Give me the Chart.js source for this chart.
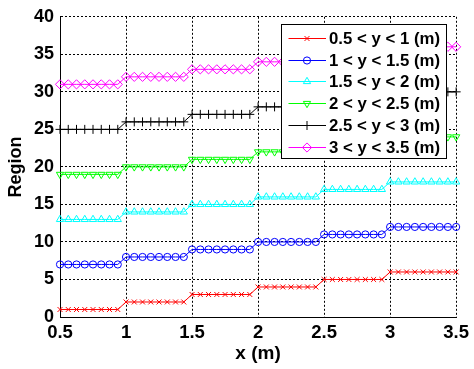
<!DOCTYPE html>
<html><head><meta charset="utf-8">
<style>html,body{margin:0;padding:0;background:#fff;overflow:hidden}canvas{display:block}</style>
<script src="https://cdn.jsdelivr.net/npm/chart.js@4.4.1/dist/chart.umd.min.js"></script>
</head><body>
<canvas id="c" width="474" height="369"></canvas>
<script>
// x positions of samples (m)
const xValues = [
  0.5, 0.5625, 0.625, 0.6875, 0.75, 0.8125, 0.875, 0.9375,
  1, 1.0625, 1.125, 1.1875, 1.25, 1.3125, 1.375, 1.4375,
  1.5, 1.5625, 1.625, 1.6875, 1.75, 1.8125, 1.875, 1.9375,
  2, 2.0625, 2.125, 2.1875, 2.25, 2.3125, 2.375, 2.4375,
  2.5, 2.5625, 2.625, 2.6875, 2.75, 2.8125, 2.875, 2.9375,
  3, 3.0625, 3.125, 3.1875, 3.25, 3.3125, 3.375, 3.4375, 3.5
];
const regionY05to1 = [1,1,1,1,1,1,1,1, 2,2,2,2,2,2,2,2, 3,3,3,3,3,3,3,3, 4,4,4,4,4,4,4,4, 5,5,5,5,5,5,5,5, 6,6,6,6,6,6,6,6,6];
const regionY1to15 = [7,7,7,7,7,7,7,7, 8,8,8,8,8,8,8,8, 9,9,9,9,9,9,9,9, 10,10,10,10,10,10,10,10, 11,11,11,11,11,11,11,11, 12,12,12,12,12,12,12,12,12];
const regionY15to2 = [13,13,13,13,13,13,13,13, 14,14,14,14,14,14,14,14, 15,15,15,15,15,15,15,15, 16,16,16,16,16,16,16,16, 17,17,17,17,17,17,17,17, 18,18,18,18,18,18,18,18,18];
const regionY2to25 = [19,19,19,19,19,19,19,19, 20,20,20,20,20,20,20,20, 21,21,21,21,21,21,21,21, 22,22,22,22,22,22,22,22, 23,23,23,23,23,23,23,23, 24,24,24,24,24,24,24,24,24];
const regionY25to3 = [25,25,25,25,25,25,25,25, 26,26,26,26,26,26,26,26, 27,27,27,27,27,27,27,27, 28,28,28,28,28,28,28,28, 29,29,29,29,29,29,29,29, 30,30,30,30,30,30,30,30,30];
const regionY3to35 = [31,31,31,31,31,31,31,31, 32,32,32,32,32,32,32,32, 33,33,33,33,33,33,33,33, 34,34,34,34,34,34,34,34, 35,35,35,35,35,35,35,35, 36,36,36,36,36,36,36,36,36];
const seriesLabels = ['0.5 < y < 1 (m)','1 < y < 1.5 (m)','1.5 < y < 2 (m)','2 < y < 2.5 (m)','2.5 < y < 3 (m)','3 < y < 3.5 (m)'];
const xTickValues = [0.5, 1, 1.5, 2, 2.5, 3, 3.5];
const yTickValues = [0, 5, 10, 15, 20, 25, 30, 35, 40];

const FONT = '"Liberation Sans", Arial, sans-serif';
const styles = [
  {color:'#ff0000', pointStyle:'crossRot', radius:3.5, rot:0},
  {color:'#0000ff', pointStyle:'circle', radius:3.6, rot:0},
  {color:'#00ffff', pointStyle:'triangle', radius:4.2, rot:0},
  {color:'#00ff00', pointStyle:'triangle', radius:4.2, rot:180},
  {color:'#000000', pointStyle:'cross', radius:4.5, rot:0},
  {color:'#ff00ff', pointStyle:'rectRot', radius:4.6, rot:0}
];
const seriesValues = [regionY05to1, regionY1to15, regionY15to2, regionY2to25, regionY25to3, regionY3to35];

const datasets = seriesValues.map((vals, i) => ({
  label: seriesLabels[i],
  data: vals.map((v, j) => ({x: xValues[j], y: v})),
  borderColor: styles[i].color,
  backgroundColor: 'rgba(0,0,0,0)',
  pointBackgroundColor: 'rgba(0,0,0,0)',
  pointBorderColor: styles[i].color,
  pointStyle: styles[i].pointStyle,
  pointRotation: styles[i].rot,
  pointRadius: styles[i].radius,
  pointBorderWidth: 1,
  borderWidth: 1,
  fill: false,
  tension: 0,
  clip: false
}));

const boxLegend = {
  id: 'boxLegend',
  afterDatasetsDraw(chart) {
    const ctx = chart.ctx, ca = chart.chartArea;
    const w = 165, h = 134;
    const left = Math.round(ca.right - 10 - w), top = Math.round(ca.top + 7);
    ctx.save();
    ctx.fillStyle = '#fff';
    ctx.fillRect(left, top, w, h);
    ctx.strokeStyle = '#000'; ctx.lineWidth = 1;
    ctx.strokeRect(left + 0.5, top + 0.5, w, h);
    ctx.font = 'bold 16.8px ' + FONT;
    ctx.textBaseline = 'middle';
    ctx.textAlign = 'left';
    chart.data.datasets.forEach((ds, i) => {
      const y = Math.round(top + 14 + i * 21.7) + 0.5;
      ctx.strokeStyle = ds.borderColor; ctx.lineWidth = 1;
      ctx.beginPath(); ctx.moveTo(left + 7.5, y); ctx.lineTo(left + 45, y); ctx.stroke();
      ctx.fillStyle = 'rgba(0,0,0,0)';
      ctx.strokeStyle = ds.pointBorderColor;
      if (Chart.helpers && Chart.helpers.drawPoint) {
        Chart.helpers.drawPoint(ctx, {pointStyle: ds.pointStyle, rotation: ds.pointRotation, radius: ds.pointRadius, borderWidth: 1}, left + 26, y);
      }
      ctx.fillStyle = '#000';
      ctx.fillText(ds.label, left + 48, y + 0.5);
    });
    ctx.restore();
  }
};

new Chart(document.getElementById('c'), {
  type: 'line',
  data: { datasets },
  plugins: [boxLegend],
  options: {
    responsive: false,
    animation: false,
    layout: { padding: { top: 12, right: 15, left: 0, bottom: 0 } },
    plugins: { legend: { display: false }, tooltip: { enabled: false } },
    scales: {
      x: {
        type: 'linear', min: xTickValues[0], max: xTickValues[xTickValues.length - 1],
        afterFit(s) { s.height = 52; },
        afterBuildTicks(s) { s.ticks = xTickValues.map(v => ({value: v})); },
        ticks: { color: '#000', font: { family: FONT, size: 18.5, weight: 'bold' }, padding: 5, maxRotation: 0, autoSkip: false,
                 callback: v => String(Math.round(v * 100) / 100) },
        grid: { color: '#000', lineWidth: 1, drawTicks: false },
        border: { display: true, color: '#000', width: 1, dash: [2, 2] },
        title: { display: true, text: 'x (m)', color: '#000', font: { family: FONT, size: 19, weight: 'bold' }, padding: { top: 4, bottom: 4 } }
      },
      y: {
        type: 'linear', min: yTickValues[0], max: yTickValues[yTickValues.length - 1],
        afterFit(s) { s.width = 60; },
        afterBuildTicks(s) { s.ticks = yTickValues.map(v => ({value: v})); },
        ticks: { color: '#000', font: { family: FONT, size: 18, weight: 'bold' }, padding: 6 },
        grid: { color: '#000', lineWidth: 1, drawTicks: false },
        border: { display: true, color: '#000', width: 1, dash: [2, 2] },
        title: { display: true, text: 'Region', color: '#000', font: { family: FONT, size: 18, weight: 'bold' }, padding: { top: 5, bottom: 5 } }
      }
    }
  }
});
</script>
</body></html>
